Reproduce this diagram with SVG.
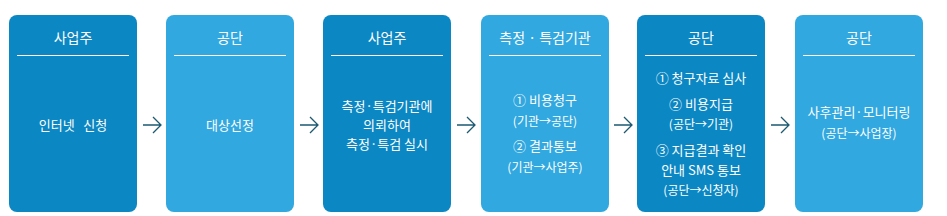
<svg xmlns="http://www.w3.org/2000/svg" width="947" height="216" viewBox="0 0 947 216">
<style>
.dark{fill:#0b87c3}
.light{fill:#31a8df}
.sep{stroke:#ffffff;stroke-width:1}
text{font-family:"Noto Sans CJK KR","Noto Sans",sans-serif;fill:#ffffff;text-anchor:middle}
.h{font-size:14px}
.b{font-size:13px}
.s{font-size:12px}
.arr{fill:none;stroke:#1b5a72;stroke-width:1.3}
</style>
<rect width="947" height="216" fill="#ffffff"/>
<g id="node1">
<rect class="dark" x="9" y="15" width="128" height="197" rx="8"/>
<line class="sep" x1="17" y1="55.5" x2="129" y2="55.5"/>
<text class="h" x="73" y="43">사업주</text>
<text class="b" x="73" y="130" xml:space="preserve">인터넷   신청</text>
</g>
<g id="node2">
<rect class="light" x="166" y="15" width="128" height="197" rx="8"/>
<line class="sep" x1="174" y1="55.5" x2="286" y2="55.5"/>
<text class="h" x="230" y="43">공단</text>
<text class="b" x="230" y="130">대상선정</text>
</g>
<g id="node3">
<rect class="dark" x="323" y="15" width="128" height="197" rx="8"/>
<line class="sep" x1="331" y1="55.5" x2="443" y2="55.5"/>
<text class="h" x="387" y="43">사업주</text>
<text class="b" x="387" y="111">측정·특검기관에</text>
<text class="b" x="387" y="130">의뢰하여</text>
<text class="b" x="387" y="149">측정·특검 실시</text>
</g>
<g id="node4">
<rect class="light" x="481" y="15" width="128" height="197" rx="8"/>
<line class="sep" x1="489" y1="55.5" x2="601" y2="55.5"/>
<text class="h" x="545" y="43">측정 · 특검기관</text>
<text class="b" x="545" y="105">① 비용청구</text>
<text class="s" x="545" y="126">(기관→공단)</text>
<text class="b" x="545" y="151">② 결과통보</text>
<text class="s" x="545" y="172">(기관→사업주)</text>
</g>
<g id="node5">
<rect class="dark" x="637" y="15" width="128" height="197" rx="8"/>
<line class="sep" x1="645" y1="55.5" x2="757" y2="55.5"/>
<text class="h" x="701" y="43">공단</text>
<text class="b" x="701" y="83">① 청구자료 심사</text>
<text class="b" x="701" y="109">② 비용지급</text>
<text class="s" x="701" y="129">(공단→기관)</text>
<text class="b" x="701" y="155">③ 지급결과 확인</text>
<text class="b" x="701" y="175">안내 SMS 통보</text>
<text class="s" x="701" y="195">(공단→신청자)</text>
</g>
<g id="node6">
<rect class="light" x="795" y="15" width="128" height="197" rx="8"/>
<line class="sep" x1="803" y1="55.5" x2="915" y2="55.5"/>
<text class="h" x="859" y="43">공단</text>
<text class="b" x="859" y="117">사후관리·모니터링</text>
<text class="s" x="859" y="138">(공단→사업장)</text>
</g>
<g id="connectors">
<path class="arr" d="M143 125H161M153 117L161 125L153 133"/>
<path class="arr" d="M300 125H318M310 117L318 125L310 133"/>
<path class="arr" d="M457 125H475M467 117L475 125L467 133"/>
<path class="arr" d="M614 125H632M624 117L632 125L624 133"/>
<path class="arr" d="M771 125H789M781 117L789 125L781 133"/>
</g>
</svg>
